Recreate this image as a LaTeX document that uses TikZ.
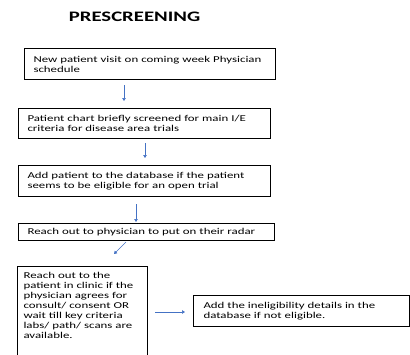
\documentclass[tikz,border=0pt]{standalone}
\usepackage{fontspec}
\setmainfont{Carlito}[FakeStretch=1.43]
\usepackage{tikz}
\usetikzlibrary{arrows.meta,calc}
\definecolor{flowblue}{HTML}{4472C4}

\begin{document}
\begin{tikzpicture}[x=1pt,y=-1pt]
    \tikzstyle{stage}=[draw=black,line width=1pt,anchor=north west,align=left,inner xsep=9pt,inner ysep=0pt,font=\fontsize{9}{10}\selectfont]
    \tikzstyle{long stage}=[stage,text width=234pt,minimum height=31pt]
    \tikzstyle{flow}=[-{Triangle[length=3pt,width=3.5pt]},draw=flowblue,line width=0.6pt]
    \tikzstyle{head}=[font=\fontsize{14.5}{16}\selectfont\bfseries]

    \useasboundingbox (0,0) rectangle (410,354);

    % Title
    \node[head] (title) at (134.5,16.5) {PRESCREENING};

    % Draw the prescreening steps
    \node[long stage,text width=233pt] (visit) at (24,48) {New patient visit on coming week Physician\\schedule};
    \node[long stage,minimum height=30pt] (chart) at (18,108) {Patient chart briefly screened for main I/E\\criteria for disease area trials};
    \node[long stage] (database) at (18,165) {Add patient to the database if the patient\\seems to be eligible for an open trial};
    \node[stage,text width=238pt,minimum height=17pt] (physician) at (18,223) {Reach out to physician to put on their radar};
    \node[stage,draw=none,inner xsep=6pt,inner ysep=6pt,text width=117pt] (clinic) at (17,266)
        {Reach out to the\\patient in clinic if the\\physician agrees for\\consult/ consent OR\\wait till key criteria\\labs/ path/ scans are\\available.};
    \draw[line width=1pt] (clinic.north west) rectangle ([yshift=-20pt]clinic.south east);
    \node[stage,inner xsep=10pt,text width=196pt,minimum height=31pt] (ineligible) at (193,295)
        {Add the ineligibility details in the\\database if not eligible.};

    % Connect the steps
    \draw[flow] ([xshift=100pt,yshift=-5pt]visit.south west) -- ([xshift=106pt,yshift=7pt]chart.north west);
    \draw[flow] ([xshift=127pt,yshift=-4pt]chart.south west) -- ([xshift=127pt,yshift=7pt]database.north west);
    \draw[flow] ([xshift=118pt,yshift=-7pt]database.south west) -- ([xshift=118pt,yshift=1pt]physician.north west);
    \draw[flow] ([xshift=108pt,yshift=-1pt]physician.south west) -- ([xshift=97pt,yshift=12pt]clinic.north west);
    \draw[flow] ($(clinic.east |- ineligible.west)+(8,1)$) -- ($(ineligible.west)+(-8,1)$);
\end{tikzpicture}
\end{document}
